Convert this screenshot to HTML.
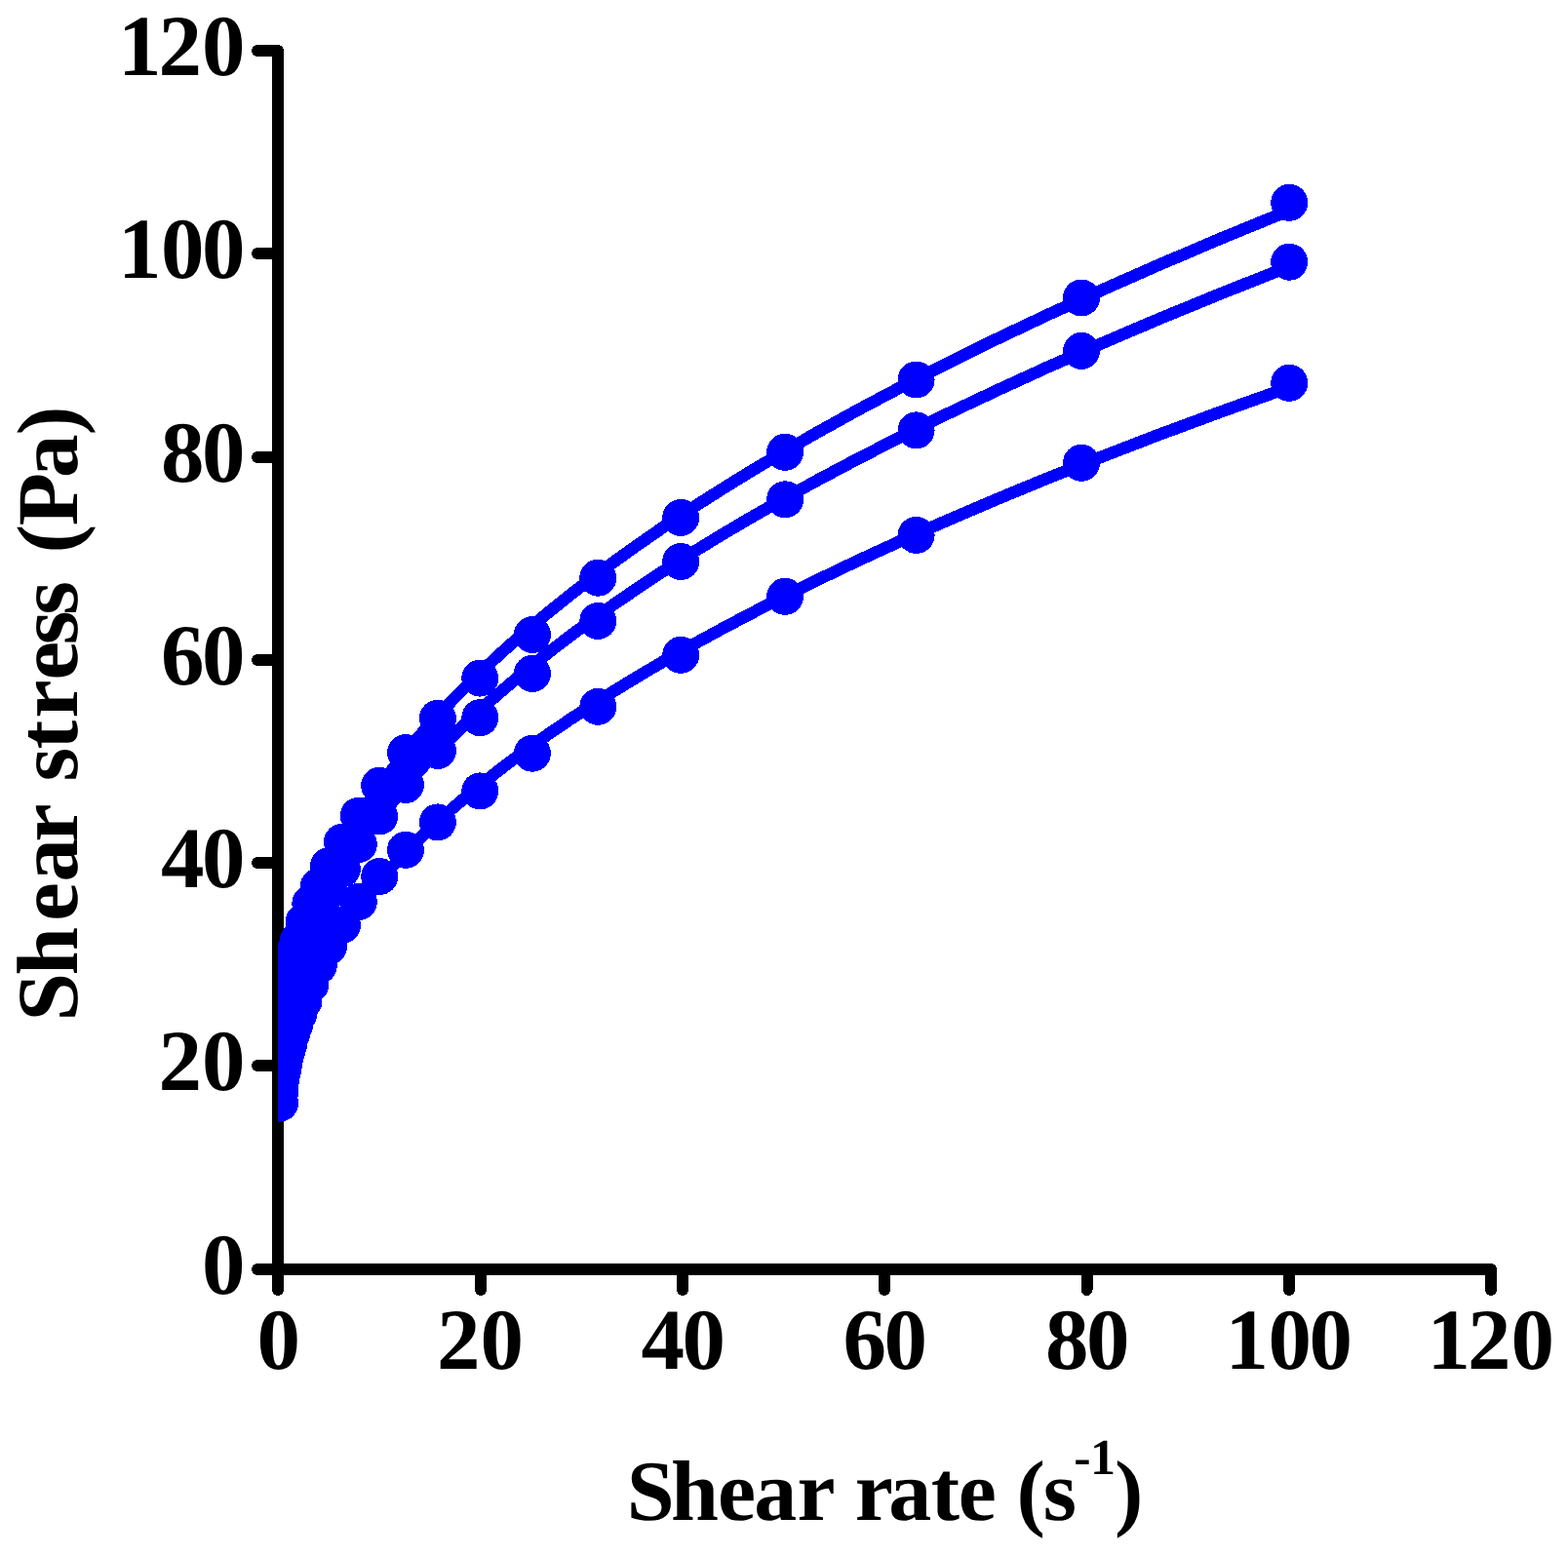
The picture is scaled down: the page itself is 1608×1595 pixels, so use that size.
<!DOCTYPE html>
<html lang="en"><head><meta charset="utf-8"><title>Shear stress vs shear rate</title>
<style>html,body{margin:0;padding:0;background:#fff}body{width:1608px;height:1595px;overflow:hidden}svg{display:block}</style>
</head><body>
<svg width="1608" height="1595" viewBox="0 0 1608 1595" shape-rendering="crispEdges" text-rendering="geometricPrecision">
<rect width="1608" height="1595" fill="#fff"/>
<defs><clipPath id="plot"><rect x="285" y="0" width="1400" height="1302"/></clipPath></defs>
<g stroke="#000" stroke-width="12" stroke-linecap="round" stroke-linejoin="round" fill="none">
<path d="M285 52 V1302"/>
<path d="M285 1302 H1529"/>
<path d="M285 1302 H264"/>
<path d="M285 1302 V1323"/>
<path d="M285 1093 H264"/>
<path d="M493 1302 V1323"/>
<path d="M285 885 H264"/>
<path d="M700 1302 V1323"/>
<path d="M285 677 H264"/>
<path d="M907 1302 V1323"/>
<path d="M285 469 H264"/>
<path d="M1114.5 1302 V1323"/>
<path d="M285 260 H264"/>
<path d="M1322 1302 V1323"/>
<path d="M285 52 H264"/>
<path d="M1529 1302 V1323"/>
</g>
<g font-family="'Liberation Serif', serif" font-weight="bold" font-size="89" fill="#000">
<text x="207" y="1327">0</text>
<text x="263.5" y="1404">0</text>
<text x="162.4 207" y="1118">20</text>
<text x="447.9 492.5" y="1404">20</text>
<text x="165 207" y="910">40</text>
<text x="657.5 699.5" y="1404">40</text>
<text x="165 207" y="702">60</text>
<text x="864.5 906.5" y="1404">60</text>
<text x="165 207" y="494">80</text>
<text x="1072 1114" y="1404">80</text>
<text x="121.1 165 207" y="285">100</text>
<text x="1256.6 1300.5 1342.5" y="1404">100</text>
<text x="121.1 162.4 207" y="77">120</text>
<text x="1463.6 1504.9 1549.5" y="1404">120</text>
</g>
<g font-family="'Liberation Serif', serif" font-weight="bold" font-size="88" fill="#000">
<text x="642.8 688 736 773.2 817.4 854.9 876.8 911.2 954.8 982.7 1021.3 1042.5 1069.8" y="1558.6">Shear rate (s<tspan x="1101.2 1118.1" y="1512.1" font-size="52">-1</tspan><tspan x="1142.9" y="1558.6">)</tspan></text>
<text transform="translate(78.6 1049.5) rotate(-90)" font-size="89" x="1.9 48.9 104.7 145.1 185.8 220.9 248 281.1 312.7 351.9 388.2 418.8 454.1 482.1 510.2 559.6 603.2" y="0">Shear stress (Pa)</text>
</g>
<g clip-path="url(#plot)" fill="#0000ff">
<polyline fill="none" stroke="#0000ff" stroke-width="12.5" stroke-linejoin="round" points="286.3,1125.0 286.4,1124.1 286.5,1123.1 286.6,1122.2 286.7,1121.2 286.8,1120.1 286.9,1119.0 287.0,1117.9 287.1,1116.8 287.2,1115.6 287.4,1114.4 287.5,1113.1 287.7,1111.8 287.8,1110.4 288.0,1109.0 288.2,1107.6 288.4,1106.1 288.7,1104.5 288.9,1102.9 289.2,1101.3 289.4,1099.6 289.7,1097.8 290.0,1095.9 290.4,1094.1 290.7,1092.1 291.1,1090.1 291.5,1088.0 292.0,1085.8 292.5,1083.6 293.0,1081.3 293.5,1078.9 294.1,1076.4 294.8,1073.8 295.4,1071.2 296.2,1068.4 296.9,1065.6 297.8,1062.7 298.7,1059.7 299.6,1056.5 300.6,1053.3 301.7,1050.0 302.9,1046.5 304.2,1042.9 305.5,1039.3 307.0,1035.4 308.5,1031.5 310.2,1027.4 311.9,1023.2 313.9,1018.8 315.9,1014.3 318.1,1009.6 320.4,1004.8 322.9,999.8 325.6,994.7 328.5,989.3 331.6,983.8 334.9,978.1 338.5,972.2 342.3,966.1 346.3,959.8 350.7,953.3 355.4,946.6 360.4,939.6 365.8,932.4 371.5,924.9 377.7,917.2 384.3,909.3 391.4,901.1 399.0,892.5 407.1,883.7 415.8,874.6 425.1,865.2 435.1,855.5 445.9,845.5 457.3,835.1 469.7,824.3 482.8,813.2 497.0,801.7 512.1,789.8 528.3,777.5 545.7,764.8 564.3,751.7 584.3,738.1 605.7,724.1 628.6,709.5 653.1,694.5 679.4,679.0 707.6,662.9 737.8,646.4 770.2,629.2 804.9,611.5 842.0,593.1 881.9,574.1 924.5,554.5 970.2,534.3 1019.2,513.3 1071.7,491.6 1128.0,469.2 1188.2,446.0 1252.8,422.1 1322.0,397.3"/>
<circle cx="287.0" cy="1131.6" r="19"/><circle cx="287.0" cy="1121.1" r="19"/><circle cx="287.0" cy="1112.7" r="19"/><circle cx="288.0" cy="1107.5" r="19"/><circle cx="288.0" cy="1104.3" r="19"/><circle cx="289.0" cy="1101.4" r="19"/><circle cx="290.0" cy="1097.7" r="19"/><circle cx="291.0" cy="1092.0" r="19"/><circle cx="292.0" cy="1085.4" r="19"/><circle cx="294.0" cy="1078.9" r="19"/><circle cx="296.0" cy="1071.5" r="19"/><circle cx="299.0" cy="1060.5" r="19"/><circle cx="302.0" cy="1051.6" r="19"/><circle cx="306.0" cy="1040.5" r="19"/><circle cx="311.5" cy="1027.0" r="19"/><circle cx="318.3" cy="1009.8" r="19"/><circle cx="326.8" cy="990.5" r="19"/><circle cx="337.0" cy="970.7" r="19"/><circle cx="350.9" cy="948.9" r="19"/><circle cx="367.8" cy="924.9" r="19"/><circle cx="389.2" cy="899.0" r="19"/><circle cx="416.0" cy="871.8" r="19"/><circle cx="448.9" cy="843.4" r="19"/><circle cx="492.3" cy="811.4" r="19"/><circle cx="545.9" cy="772.7" r="19"/><circle cx="613.3" cy="724.8" r="19"/><circle cx="698.2" cy="671.8" r="19"/><circle cx="805.1" cy="611.8" r="19"/><circle cx="939.6" cy="548.9" r="19"/><circle cx="1109.0" cy="474.8" r="19"/><circle cx="1322.2" cy="392.8" r="19"/>

<polyline fill="none" stroke="#0000ff" stroke-width="12.5" stroke-linejoin="round" points="286.3,1096.5 286.4,1095.4 286.5,1094.2 286.6,1093.1 286.7,1091.8 286.8,1090.6 286.9,1089.3 287.0,1088.0 287.1,1086.6 287.2,1085.2 287.4,1083.7 287.5,1082.2 287.7,1080.6 287.8,1079.0 288.0,1077.3 288.2,1075.6 288.4,1073.8 288.7,1072.0 288.9,1070.1 289.2,1068.1 289.4,1066.1 289.7,1064.0 290.0,1061.8 290.4,1059.5 290.7,1057.2 291.1,1054.8 291.5,1052.4 292.0,1049.8 292.5,1047.2 293.0,1044.4 293.5,1041.6 294.1,1038.7 294.8,1035.7 295.4,1032.6 296.2,1029.4 296.9,1026.1 297.8,1022.7 298.7,1019.1 299.6,1015.5 300.6,1011.7 301.7,1007.8 302.9,1003.8 304.2,999.6 305.5,995.4 307.0,990.9 308.5,986.3 310.2,981.6 311.9,976.7 313.9,971.7 315.9,966.4 318.1,961.0 320.4,955.5 322.9,949.7 325.6,943.8 328.5,937.6 331.6,931.3 334.9,924.7 338.5,918.0 342.3,911.0 346.3,903.8 350.7,896.3 355.4,888.6 360.4,880.6 365.8,872.4 371.5,863.9 377.7,855.1 384.3,846.1 391.4,836.7 399.0,827.0 407.1,817.0 415.8,806.7 425.1,796.0 435.1,785.0 445.9,773.6 457.3,761.9 469.7,749.7 482.8,737.2 497.0,724.2 512.1,710.8 528.3,697.0 545.7,682.7 564.3,667.9 584.3,652.6 605.7,636.9 628.6,620.6 653.1,603.8 679.4,586.4 707.6,568.5 737.8,549.9 770.2,530.8 804.9,511.0 842.0,490.6 881.9,469.5 924.5,447.7 970.2,425.1 1019.2,401.9 1071.7,377.8 1128.0,353.0 1188.2,327.3 1252.8,300.8 1322.0,273.4"/>
<circle cx="287.0" cy="1087.3" r="19"/><circle cx="287.0" cy="1077.5" r="19"/><circle cx="287.0" cy="1070.7" r="19"/><circle cx="288.0" cy="1064.8" r="19"/><circle cx="288.0" cy="1059.0" r="19"/><circle cx="289.0" cy="1053.1" r="19"/><circle cx="290.0" cy="1047.3" r="19"/><circle cx="291.0" cy="1040.4" r="19"/><circle cx="292.0" cy="1033.6" r="19"/><circle cx="294.0" cy="1025.8" r="19"/><circle cx="296.0" cy="1017.0" r="19"/><circle cx="299.0" cy="1007.2" r="19"/><circle cx="302.0" cy="996.5" r="19"/><circle cx="306.0" cy="985.8" r="19"/><circle cx="311.5" cy="968.2" r="19"/><circle cx="318.3" cy="950.6" r="19"/><circle cx="326.8" cy="934.0" r="19"/><circle cx="337.0" cy="914.1" r="19"/><circle cx="350.9" cy="891.4" r="19"/><circle cx="367.8" cy="866.0" r="19"/><circle cx="389.2" cy="837.4" r="19"/><circle cx="416.0" cy="805.1" r="19"/><circle cx="448.9" cy="769.9" r="19"/><circle cx="492.3" cy="736.2" r="19"/><circle cx="545.9" cy="690.9" r="19"/><circle cx="613.3" cy="636.9" r="19"/><circle cx="698.2" cy="576.0" r="19"/><circle cx="805.1" cy="512.3" r="19"/><circle cx="939.6" cy="441.4" r="19"/><circle cx="1109.0" cy="359.9" r="19"/><circle cx="1322.2" cy="268.7" r="19"/>

<polyline fill="none" stroke="#0000ff" stroke-width="12.5" stroke-linejoin="round" points="286.3,1080.9 286.4,1079.7 286.5,1078.4 286.6,1077.2 286.7,1075.8 286.8,1074.5 286.9,1073.1 287.0,1071.6 287.1,1070.1 287.2,1068.6 287.4,1067.0 287.5,1065.3 287.7,1063.6 287.8,1061.9 288.0,1060.1 288.2,1058.2 288.4,1056.3 288.7,1054.3 288.9,1052.2 289.2,1050.1 289.4,1047.9 289.7,1045.6 290.0,1043.3 290.4,1040.8 290.7,1038.3 291.1,1035.8 291.5,1033.1 292.0,1030.4 292.5,1027.5 293.0,1024.6 293.5,1021.6 294.1,1018.4 294.8,1015.2 295.4,1011.9 296.2,1008.4 296.9,1004.9 297.8,1001.2 298.7,997.4 299.6,993.5 300.6,989.5 301.7,985.3 302.9,981.0 304.2,976.6 305.5,972.0 307.0,967.3 308.5,962.4 310.2,957.3 311.9,952.1 313.9,946.7 315.9,941.2 318.1,935.4 320.4,929.5 322.9,923.4 325.6,917.1 328.5,910.6 331.6,903.8 334.9,896.9 338.5,889.7 342.3,882.3 346.3,874.6 350.7,866.7 355.4,858.6 360.4,850.2 365.8,841.5 371.5,832.5 377.7,823.2 384.3,813.7 391.4,803.8 399.0,793.6 407.1,783.0 415.8,772.2 425.1,760.9 435.1,749.3 445.9,737.4 457.3,725.0 469.7,712.3 482.8,699.1 497.0,685.5 512.1,671.4 528.3,656.9 545.7,642.0 564.3,626.5 584.3,610.5 605.7,594.1 628.6,577.1 653.1,559.5 679.4,541.3 707.6,522.6 737.8,503.3 770.2,483.3 804.9,462.7 842.0,441.4 881.9,419.4 924.5,396.8 970.2,373.3 1019.2,349.1 1071.7,324.2 1128.0,298.4 1188.2,271.8 1252.8,244.3 1322.0,215.9"/>
<circle cx="287.0" cy="1072.8" r="19"/><circle cx="287.0" cy="1062.4" r="19"/><circle cx="287.0" cy="1055.1" r="19"/><circle cx="288.0" cy="1048.9" r="19"/><circle cx="288.0" cy="1042.6" r="19"/><circle cx="289.0" cy="1036.4" r="19"/><circle cx="290.0" cy="1030.1" r="19"/><circle cx="291.0" cy="1022.8" r="19"/><circle cx="292.0" cy="1015.5" r="19"/><circle cx="294.0" cy="1007.2" r="19"/><circle cx="296.0" cy="997.8" r="19"/><circle cx="299.0" cy="987.4" r="19"/><circle cx="302.0" cy="976.0" r="19"/><circle cx="306.0" cy="964.5" r="19"/><circle cx="311.5" cy="945.7" r="19"/><circle cx="318.3" cy="927.0" r="19"/><circle cx="326.8" cy="909.3" r="19"/><circle cx="337.0" cy="888.0" r="19"/><circle cx="350.9" cy="863.8" r="19"/><circle cx="367.8" cy="836.7" r="19"/><circle cx="389.2" cy="805.7" r="19"/><circle cx="416.0" cy="772.1" r="19"/><circle cx="448.9" cy="736.8" r="19"/><circle cx="492.3" cy="695.6" r="19"/><circle cx="545.9" cy="651.0" r="19"/><circle cx="613.3" cy="592.7" r="19"/><circle cx="698.2" cy="530.9" r="19"/><circle cx="805.1" cy="463.8" r="19"/><circle cx="939.6" cy="389.5" r="19"/><circle cx="1109.0" cy="305.5" r="19"/><circle cx="1322.2" cy="207.8" r="19"/>

</g>
</svg>
</body></html>
